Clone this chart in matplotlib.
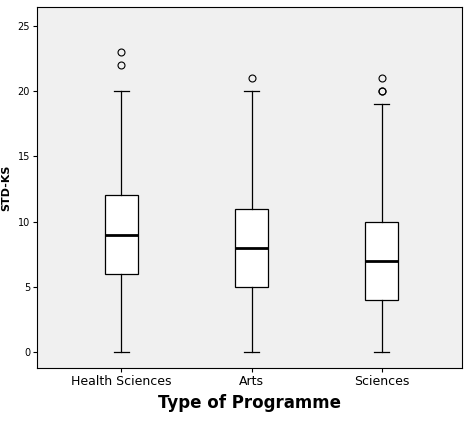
import matplotlib.pyplot as plt

categories = ['Health Sciences', 'Arts', 'Sciences']
whislo = [0, 0, 0]
q1 = [6, 5, 4]
med = [9, 8, 7]
q3 = [12, 11, 10]
whishi = [20, 20, 19]
fliers = [[22, 23], [21], [20, 20, 21]]

stats = []
for i, name in enumerate(categories):
    stats.append({'label': name, 'whislo': whislo[i], 'q1': q1[i], 'med': med[i],
                  'q3': q3[i], 'whishi': whishi[i], 'fliers': fliers[i]})

fig = plt.figure(figsize=(4.74, 4.24), dpi=100)
ax = fig.add_axes([0.078, 0.132, 0.897, 0.851])
ax.set_facecolor('#f0f0f0')

ax.bxp(stats, positions=[1, 2, 3], widths=0.26, capwidths=0.12, patch_artist=True,
       boxprops=dict(facecolor='white', edgecolor='black', linewidth=0.9),
       medianprops=dict(color='black', linewidth=2),
       whiskerprops=dict(color='black', linewidth=0.9),
       capprops=dict(color='black', linewidth=0.9),
       flierprops=dict(marker='o', markerfacecolor='none', markeredgecolor='black',
                       markersize=5, markeredgewidth=0.8))

ax.set_xlim(0.35, 3.62)
ax.set_ylim(-1.2, 26.4)
ax.set_yticks([0, 5, 10, 15, 20, 25])
ax.tick_params(labelsize=7, length=3, pad=2)
ax.tick_params(axis='x', labelsize=9)
ax.set_ylabel('STD-KS', fontsize=8, fontweight='bold', labelpad=2)
ax.yaxis.set_label_coords(-0.06, 0.5)
ax.set_xlabel('Type of Programme', fontsize=12, fontweight='bold')

fig.savefig('out.png', dpi=100)
